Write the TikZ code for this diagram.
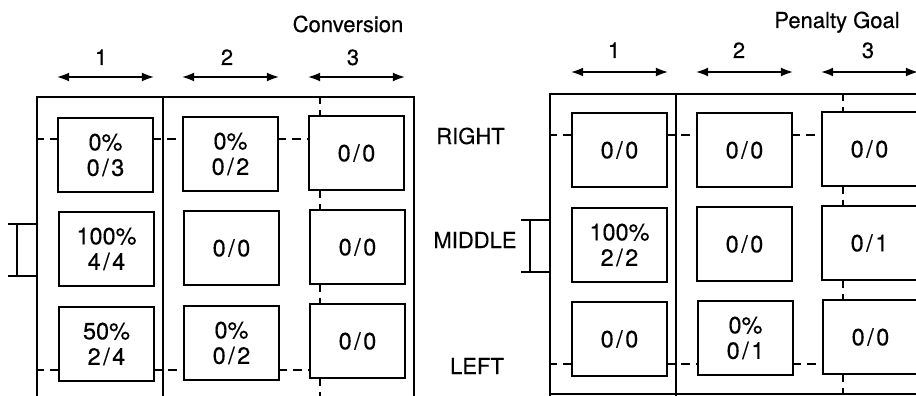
\documentclass[tikz,border=0pt]{standalone}
\usepackage{fontspec}
\setmainfont{TeX Gyre Heros}[FakeBold=0.3]
\usetikzlibrary{arrows.meta}
\newcommand{\ratio}[2]{#1\kern2.5pt/\kern2.5pt#2}

\begin{document}
\begin{tikzpicture}[
    x=1pt, y=-1pt,
    line width=1.4pt,
    cell/.style={draw, line width=1.6pt, minimum width=95pt, minimum height=74pt, inner sep=0pt, align=center, font=\fontsize{23.5}{25.5}\selectfont},
    head/.style={font=\fontsize{22}{24}\selectfont, anchor=base, inner sep=0pt},
    span/.style={{Latex[length=12pt,width=9pt]}-{Latex[length=12pt,width=9pt]}, line width=1.3pt},
    guide/.style={dash pattern=on 9pt off 6pt, dash phase=2pt, line width=1.2pt}]

    \useasboundingbox (0,0) rectangle (916,396);
    \clip (0,0) rectangle (916,396);

    %%% Conversion
    \node at (105.5,155)[cell] (c11) {0\%\\\ratio{0}{3}};
    \node at (230.5,154)[cell] (c12) {0\%\\\ratio{0}{2}};
    \node at (356.5,153)[cell] (c13) {\ratio{0}{0}};
    \node at (106.5,249)[cell] (c21) {100\%\\\ratio{4}{4}};
    \node at (231.5,248)[cell] (c22) {\ratio{0}{0}};
    \node at (357.5,247)[cell] (c23) {\ratio{0}{0}};
    \node at (106.5,344)[cell] (c31) {50\%\\\ratio{2}{4}};
    \node at (231.5,343)[cell] (c32) {0\%\\\ratio{0}{2}};
    \node at (357.5,341)[cell] (c33) {\ratio{0}{0}};

    \draw (37,396) -- (37,97) -- (414,97) -- (414,396);
    \draw (163,97) -- (163,396);
    \draw (8,224) -- (37,224) (8,276) -- (37,276) (17,224) -- (17,276);

    \coordinate (cR) at (37,139);
    \coordinate (cL) at (37,370);
    \coordinate (cT) at (320,97);
    \coordinate (cB) at (320,396);
    \draw[guide] (cR) -- (c11.west |- cR) (c11.east |- cR) -- (c12.west |- cR) (c12.east |- cR) -- (c13.west |- cR);
    \draw[guide] (cL) -- (c31.west |- cL) (c31.east |- cL) -- (c32.west |- cL) (c32.east |- cL) -- (c33.west |- cL);
    \draw[guide] (cT) -- (cT |- c13.north) (cT |- c13.south) -- (cT |- c23.north) (cT |- c23.south) -- (cT |- c33.north) (cT |- c33.south) -- (cB);

    \coordinate (hC) at (0,77);
    \path (c11.west |- hC) edge [span] (c11.east |- hC);
    \path (c12.west |- hC) edge [span] (c12.east |- hC);
    \path (c13.west |- hC) edge [span] (c13.east |- hC);
    \node at (101,65)[head] (cn1) {1};
    \node at (227,65)[head] (cn2) {2};
    \node at (353,65)[head] (cn3) {3};
    \node at (348,32)[head] (conv) {Conversion};

    %%% Row names
    \node at (470.5,144)[head] (right) {RIGHT};
    \node at (475,248)[head] (middle) {MIDDLE};
    \node at (477,374)[head] (left) {LEFT};

    %%% Penalty Goal
    \node at (619.5,150)[cell] (p11) {\ratio{0}{0}};
    \node at (744.5,150)[cell] (p12) {\ratio{0}{0}};
    \node at (869.5,149)[cell] (p13) {\ratio{0}{0}};
    \node at (619.5,245)[cell] (p21) {100\%\\\ratio{2}{2}};
    \node at (744.5,244)[cell] (p22) {\ratio{0}{0}};
    \node at (869.5,243)[cell] (p23) {\ratio{0}{1}};
    \node at (619.5,339)[cell] (p31) {\ratio{0}{0}};
    \node at (745.5,338)[cell] (p32) {0\%\\\ratio{0}{1}};
    \node at (870.5,337)[cell] (p33) {\ratio{0}{0}};

    \draw (550,396) -- (550,94) -- (916,94);
    \draw (676,94) -- (676,396);
    \draw (550,394) -- (916,394);
    \draw (521,220) -- (550,220) (521,272) -- (550,272) (530,220) -- (530,272);

    \coordinate (pR) at (550,135);
    \coordinate (pL) at (550,364);
    \coordinate (pT) at (843,94);
    \coordinate (pB) at (843,394);
    \draw[guide] (pR) -- (p11.west |- pR) (p11.east |- pR) -- (p12.west |- pR) (p12.east |- pR) -- (p13.west |- pR);
    \draw[guide] (pL) -- (p31.west |- pL) (p31.east |- pL) -- (p32.west |- pL) (p32.east |- pL) -- (p33.west |- pL);
    \draw[guide] (pT) -- (pT |- p13.north) (pT |- p13.south) -- (pT |- p23.north) (pT |- p23.south) -- (pT |- p33.north) (pT |- p33.south) -- (pB);

    \coordinate (hP) at (0,72);
    \path (p11.west |- hP) edge [span] (p11.east |- hP);
    \path (p12.west |- hP) edge [span] (p12.east |- hP);
    \path (p13.west |- hP) edge [span] (p13.east |- hP);
    \node at (614,58)[head] (pn1) {1};
    \node at (739,58)[head] (pn2) {2};
    \node at (868,58)[head] (pn3) {3};
    \node at (837,28)[head] (pen) {Penalty Goal};

\end{tikzpicture}
\end{document}
